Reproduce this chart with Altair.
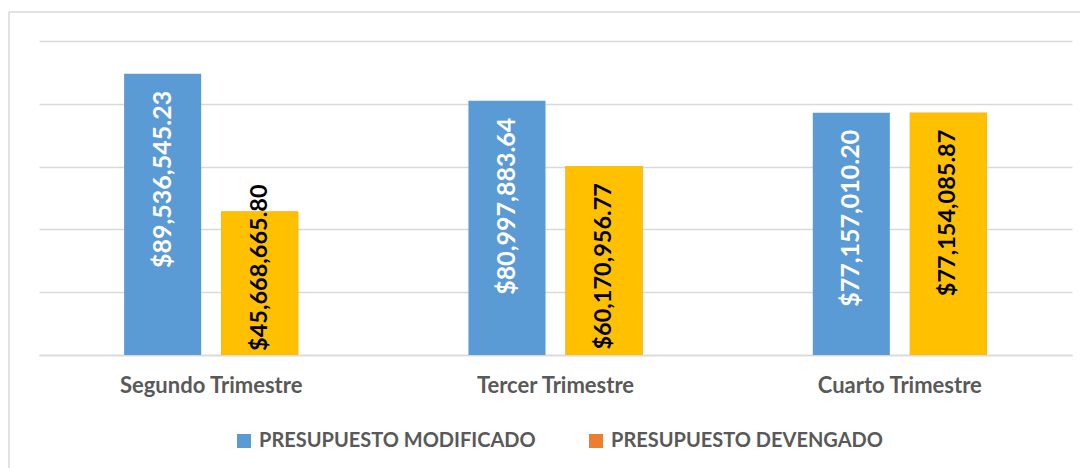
import altair as alt
import pandas as pd

quarters = ["Segundo Trimestre", "Tercer Trimestre", "Cuarto Trimestre"]
series = ["PRESUPUESTO MODIFICADO", "PRESUPUESTO DEVENGADO"]
modificado = [89536545.23, 80997883.64, 77157010.20]
devengado = [45668665.80, 60170956.77, 77154085.87]
legend_colors = ["#5B9BD5", "#ED7D31"]
devengado_bar_color = "#FFC000"
grid_values = [0, 20000000, 40000000, 60000000, 80000000, 100000000]

rows = []
for q, m, d in zip(quarters, modificado, devengado):
    rows.append({"quarter": q, "series": series[0], "value": m})
    rows.append({"quarter": q, "series": series[1], "value": d})
df = pd.DataFrame(rows)
df["label"] = df["value"].map(lambda v: "${:,.2f}".format(v))

FONT = "Lato"
GRID = "#D9D9D9"
GRAY = "#595959"

x_enc = alt.X("quarter:N", sort=quarters, title=None,
              scale=alt.Scale(paddingInner=0, paddingOuter=0),
              axis=alt.Axis(labelFont=FONT, labelFontWeight="bold", labelFontSize=22,
                            labelColor=GRAY, labelPadding=20, ticks=False, labelLimit=0,
                            domainColor=GRID, domainWidth=1.5, labelAngle=0))
xo_enc = alt.XOffset("series:N", sort=series,
                     scale=alt.Scale(paddingInner=0.206, paddingOuter=0.877))
y_scale = alt.Scale(domain=[0, 100000000], nice=False)
x_plain = alt.X("quarter:N", sort=quarters)
xo_plain = alt.XOffset("series:N", sort=series)

base = alt.Chart(df)

bars = base.mark_bar().encode(
    x=x_enc,
    xOffset=xo_enc,
    y=alt.Y("value:Q", scale=y_scale, title=None,
            axis=alt.Axis(values=grid_values, labels=False, ticks=False, domain=False,
                          grid=True, gridColor=GRID, gridWidth=1.5)),
    color=alt.Color("series:N", sort=series,
                    scale=alt.Scale(domain=series, range=legend_colors),
                    legend=alt.Legend(orient="none", legendX=195, legendY=390,
                                      direction="horizontal", title=None,
                                      symbolType="square", symbolSize=196,
                                      symbolStrokeWidth=0,
                                      labelFont=FONT, labelFontWeight="bold",
                                      labelFontSize=20, labelColor=GRAY, labelLimit=0,
                                      labelOffset=5, columnPadding=50)),
)

bars_dev = base.transform_filter(alt.datum.series == series[1]).mark_bar(
    color=devengado_bar_color
).encode(x=x_plain, xOffset=xo_plain, y=alt.Y("value:Q", scale=y_scale))

text_common = dict(angle=270, baseline="middle", font=FONT, fontWeight="bold")

lab_mod = base.transform_filter(alt.datum.series == series[0]).mark_text(
    align="right", dx=-17, color="white", fontSize=25, **text_common
).encode(x=x_plain, xOffset=xo_plain, y=alt.Y("value:Q", scale=y_scale), text="label:N")

lab_dev_end = base.transform_filter(
    (alt.datum.series == series[1]) & (alt.datum.value >= 55000000)
).mark_text(align="right", dx=-17, color="black", fontSize=23.5, **text_common).encode(
    x=x_plain, xOffset=xo_plain, y=alt.Y("value:Q", scale=y_scale), text="label:N")

lab_dev_base = base.transform_filter(
    (alt.datum.series == series[1]) & (alt.datum.value < 55000000)
).mark_text(align="left", dx=4, color="black", fontSize=23.5, **text_common).encode(
    x=x_plain, xOffset=xo_plain, y=alt.datum(0), text="label:N")

frame_df = pd.DataFrame({"k": [0]})
frame_top = alt.Chart(frame_df).mark_rule(color=GRID, strokeWidth=1.5).encode(
    x=alt.value(-30), x2=alt.value(1200), y=alt.value(-29))
frame_left = alt.Chart(frame_df).mark_rule(color=GRID, strokeWidth=1.5).encode(
    x=alt.value(-30), y=alt.value(-29), y2=alt.value(600))

chart = alt.layer(
    frame_top, frame_left, bars, bars_dev, lab_mod, lab_dev_end, lab_dev_base
).properties(
    width=1033, height=314,
    padding={"left": 31, "top": 33, "right": 8, "bottom": 113},
    autosize=alt.AutoSizeParams(type="none"),
    background="white",
).configure_view(stroke=None)

chart.save("out.html", embed_options={"renderer": "svg", "actions": False})
